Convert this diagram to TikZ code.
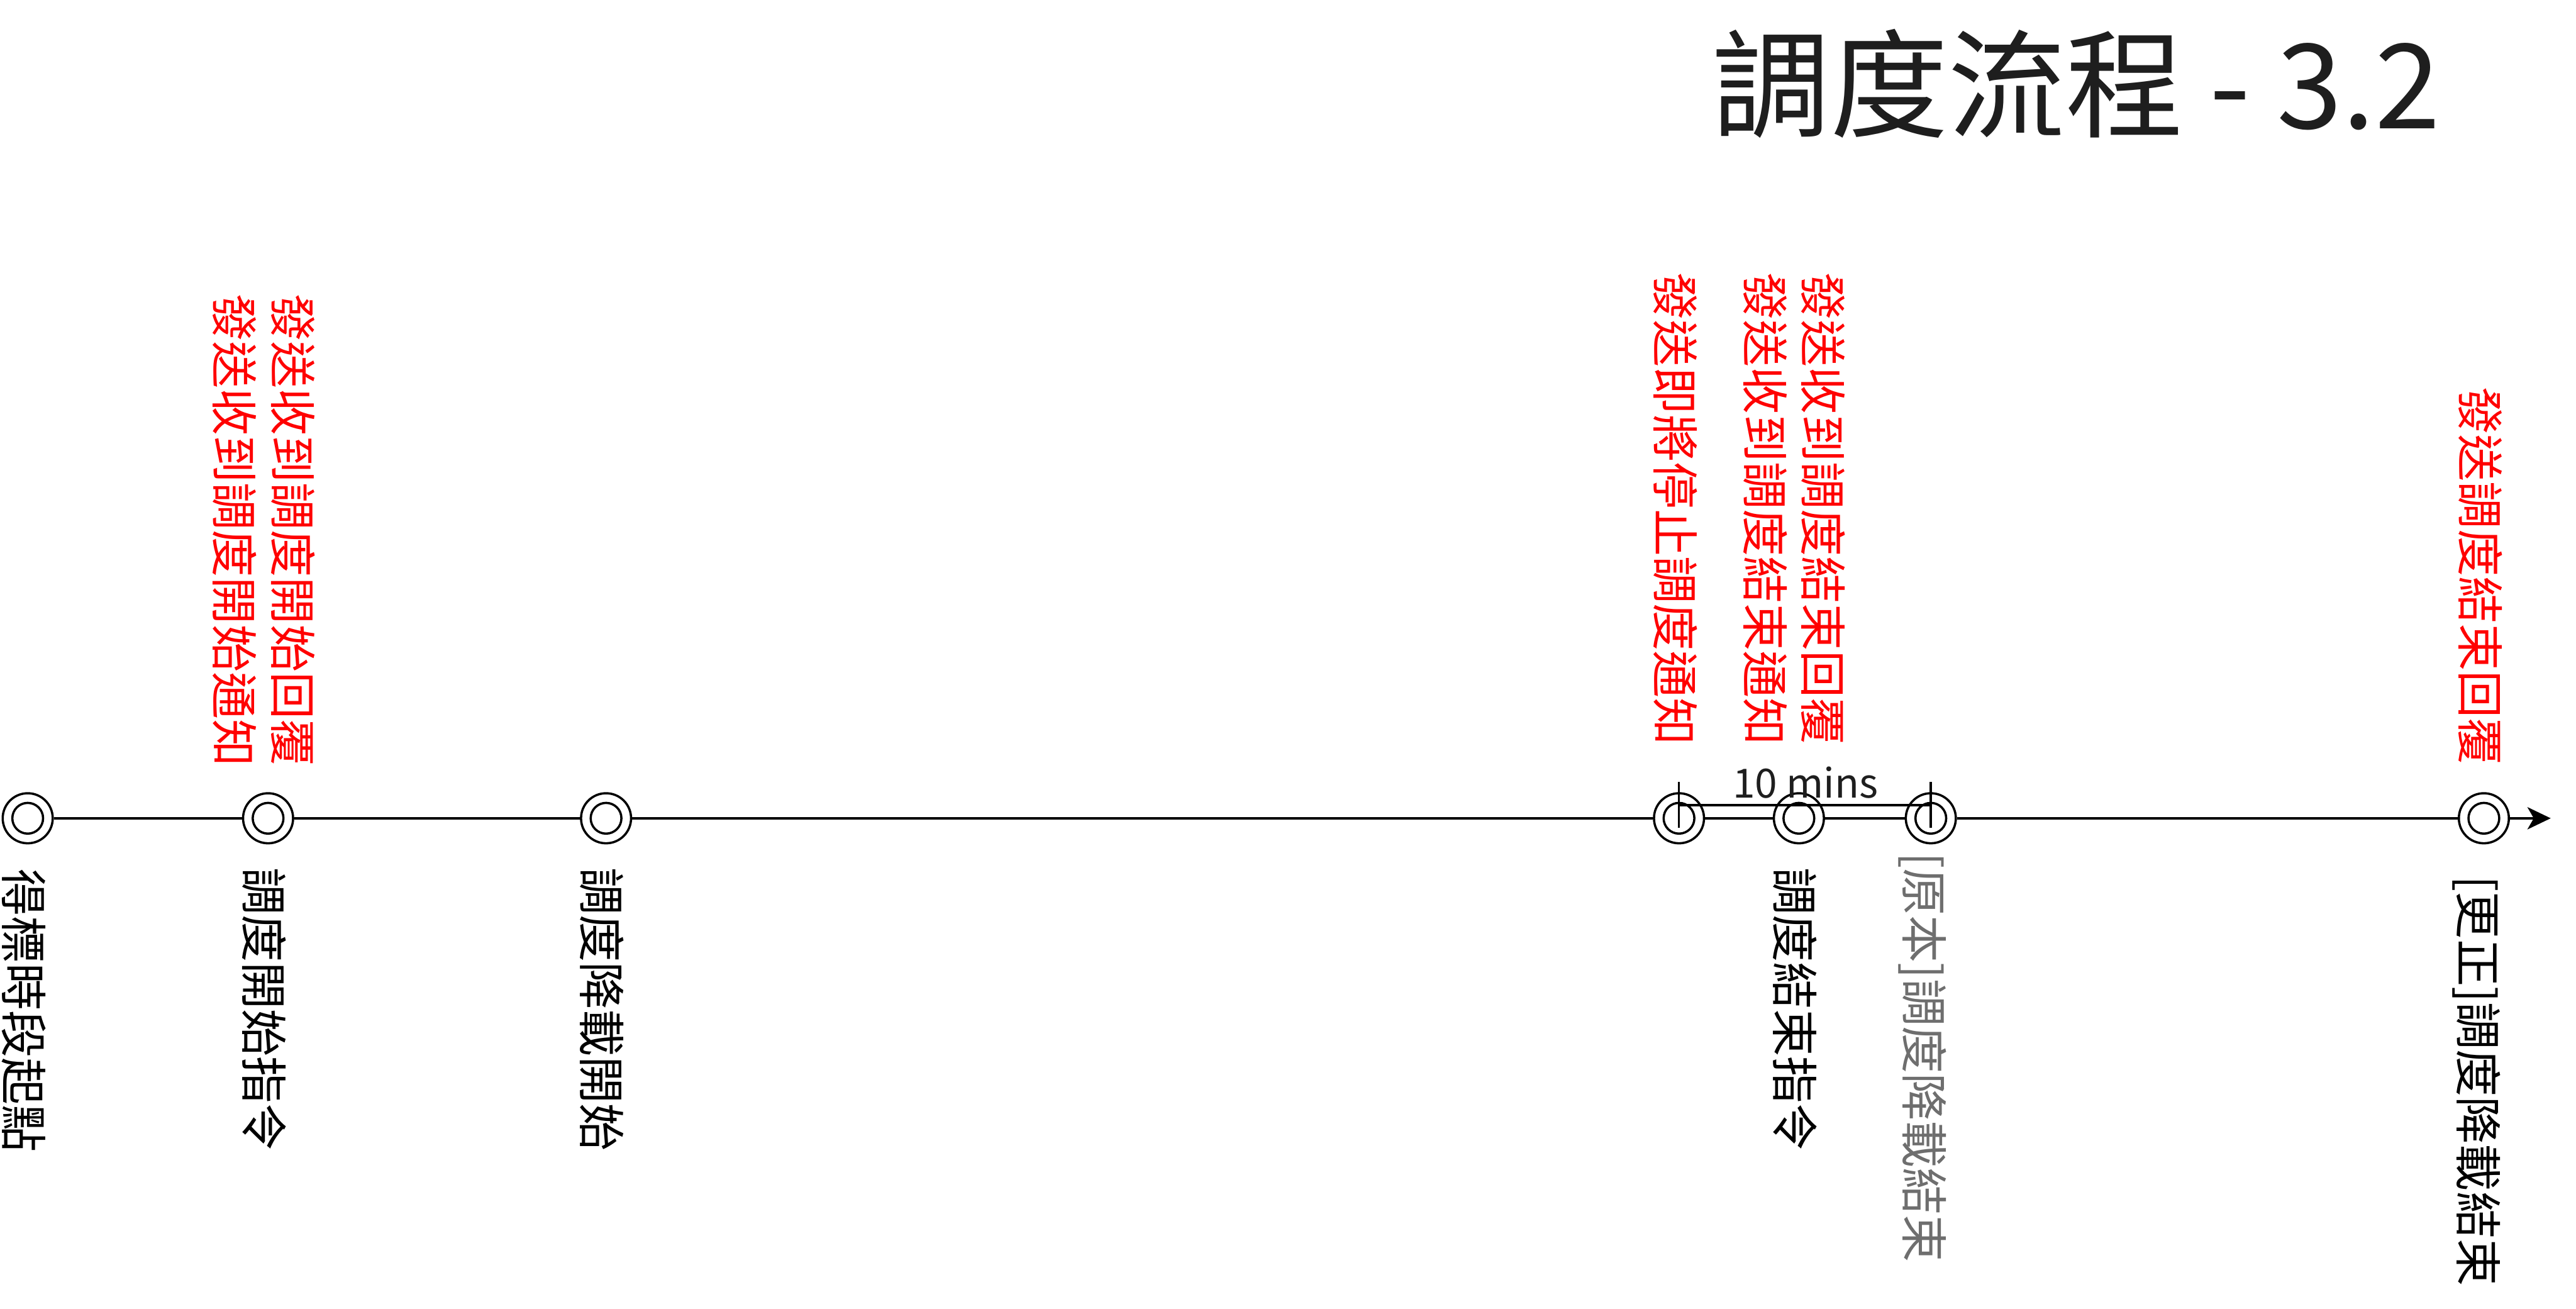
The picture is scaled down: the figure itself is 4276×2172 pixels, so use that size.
\documentclass[tikz,border=0pt]{standalone}
\usepackage{fontspec}
\setmainfont{Noto Sans CJK TC}
\usetikzlibrary{arrows.meta}
\definecolor{ink}{HTML}{1E1E1E}
\definecolor{graytxt}{HTML}{6E6E6E}
\tikzset{
  tl/.style={circle,draw,line width=1.05pt,minimum size=8.3mm,inner sep=0pt,
    path picture={\draw[line width=1.05pt] (path picture bounding box.center) circle (2.55mm);}},
  conn/.style={line width=1.05pt},
  vlab/.style={rotate=-90,anchor=base west,inner sep=0pt,font=\fontsize{22.3pt}{26pt}\selectfont},
  redlab/.style={vlab,text=red},
  blklab/.style={vlab,text=black},
  graylab/.style={vlab,text=graytxt},
}
\begin{document}
\begin{tikzpicture}[x=0.01cm,y=-0.01cm]
\useasboundingbox (0,0) rectangle (4276,2172);
% title
\node[anchor=base east,inner sep=0pt,text=ink,font=\fontsize{55.6pt}{60pt}\selectfont] (title) at (4052,214) {調度流程 - 3.2};
% timeline circles
\node[tl] (c1) at (46,1358) {};
\node[tl] (c2) at (445,1358) {};
\node[tl] (c3) at (1006,1358) {};
\node[tl] (c4) at (2787,1358) {};
\node[tl] (c5) at (2986,1358) {};
\node[tl] (c6) at (3205,1358) {};
\node[tl] (c7) at (4123,1358) {};
\coordinate (tip) at (4234,1358);
\draw[conn] (c1) -- (c2);
\draw[conn] (c2) -- (c3);
\draw[conn] (c3) -- (c4);
\draw[conn] (c4) -- (c5);
\draw[conn] (c5) -- (c6);
\draw[conn] (c6) -- (c7);
\draw[conn,-{Stealth[length=11pt,width=10.5pt,inset=3pt]}] (c7) -- (tip);
% 10 mins bracket
\coordinate (ta1) at (2787,1298);
\coordinate (ta2) at (2787,1374);
\coordinate (tb1) at (3205,1298);
\coordinate (tb2) at (3205,1374);
\coordinate (ha) at (2787,1336);
\coordinate (hb) at (3205,1336);
\draw[conn] (ta1) -- (ta2);
\draw[conn] (tb1) -- (tb2);
\draw[conn] (ha) -- (hb);
\node[anchor=base,inner sep=0pt,text=ink,font=\fontsize{19pt}{22pt}\selectfont] (mins) at (2997,1324) {10 mins};
% red labels (above)
\node[redlab] (rA) at (457,487) {發送收到調度開始回覆};
\node[redlab] (rB) at (360,487) {發送收到調度開始通知};
\node[redlab] (rC) at (2751,452) {發送即將停止調度通知};
\node[redlab] (rD) at (2901,452) {發送收到調度結束通知};
\node[redlab] (rE) at (2997,452) {發送收到調度結束回覆};
\node[redlab] (rF) at (4087,642) {發送調度結束回覆};
% labels below
\node[blklab] (b1) at (10,1441) {得標時段起點};
\node[blklab] (b2) at (409,1439) {調度開始指令};
\node[blklab] (b3) at (969,1439) {調度降載開始};
\node[blklab] (b4) at (2950,1439) {調度結束指令};
\node[graylab] (b5) at (3165,1414) {[原本]調度降載結束};
\node[blklab] (b6) at (4084,1453) {[更正]調度降載結束};
\end{tikzpicture}
\end{document}
